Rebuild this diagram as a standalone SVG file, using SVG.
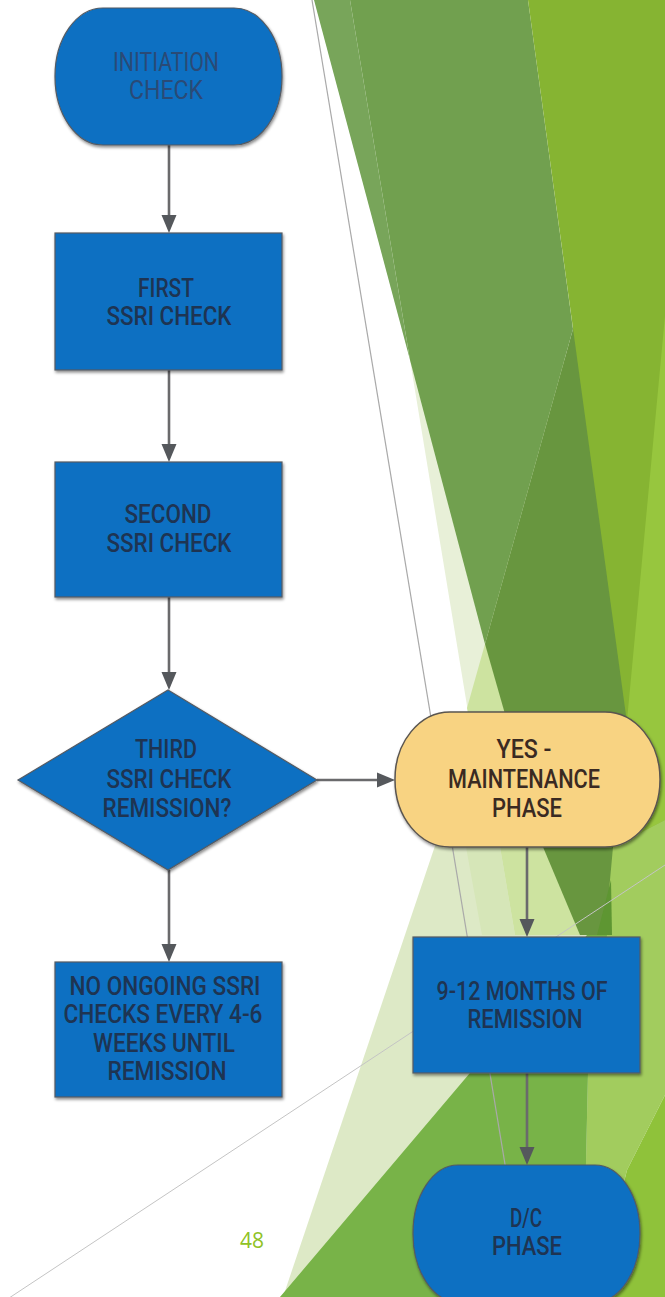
<svg xmlns="http://www.w3.org/2000/svg" width="665" height="1297" viewBox="0 0 665 1297">
<defs>
<style>
.t{font-family:Roboto,'Liberation Sans',Arial,sans-serif;font-weight:500;font-size:25px;fill:#1e3452;text-anchor:middle}
.ti{font-weight:400;fill:#2a4a76}
.ty{fill:#3a2a22}
.blue{fill:#0a6fc2;stroke:#555b63;stroke-width:1.2}
.yel{fill:#f8d382;stroke:#5a5550;stroke-width:1.5}
.con{stroke:#6a6a6c;stroke-width:2.6;fill:none}
.ah{fill:#55585c}
</style>
<filter id="sh" x="-10%" y="-10%" width="120%" height="125%">
<feDropShadow dx="1" dy="2" stdDeviation="1.6" flood-color="#000" flood-opacity="0.45"/>
</filter>
</defs>
<g id="background">
<rect x="0" y="0" width="665" height="1297" fill="#ffffff"/>
<polygon points="410,360 600,360 600,736 472,736" fill="#e8f0d8"/>
<polygon points="472,736 600,736 600,1297 283,1297" fill="#dde9c6"/>
<polygon points="485,644 467,708 468,713 500,847 515,935 620,935 620,644" fill="#cde3a0"/>
<polygon points="466,847 500,847 515,935 482,935" fill="#d6e6b8"/>
<polygon points="314,0 350,0 410,360" fill="#78a55a"/>
<polygon points="350,0 528,0 573,329 485,644 410,360" fill="#71a04f"/>
<polygon points="573,329 485,644 543,847 580,935 665,935 665,329" fill="#68963f"/>
<polygon points="528,0 665,0 665,1000" fill="#86b432"/>
<polygon points="665,316 628,710 613,847 665,820" fill="#97c63e"/>
<polygon points="613,847 665,820 665,1095 627,1170 595,1297 583,1297 588,1073 605,935" fill="#a2cc5e"/>
<polygon points="280,1297 587,935 607,935 588,1073 583,1297" fill="#78b348"/>
<polygon points="665,1095 665,1297 595,1297 627,1170" fill="#8fc23a"/>
<polygon points="597,935 611,880 612,935" fill="#5e9632"/>
<line x1="312" y1="0" x2="527" y2="1297" stroke="#a9a9a9" stroke-width="1.2"/>
<line x1="0" y1="1304" x2="665" y2="865" stroke="#c4c4c4" stroke-width="1"/>
<text x="240" y="1248" style="font-family:'Open Sans','Liberation Sans',sans-serif;font-size:21px;fill:#90c226">48</text>
</g>
<g id="connectors">
<line class="con" x1="169" y1="145" x2="169" y2="218"/>
<polygon class="ah" points="161.5,215 176.5,215 169,233"/>
<line class="con" x1="169" y1="370" x2="169" y2="447"/>
<polygon class="ah" points="161.5,444 176.5,444 169,462"/>
<line class="con" x1="169" y1="597" x2="169" y2="675"/>
<polygon class="ah" points="161.5,672 176.5,672 169,690"/>
<line class="con" x1="169" y1="870" x2="169" y2="947"/>
<polygon class="ah" points="161.5,944 176.5,944 169,962"/>
<line class="con" x1="317" y1="780" x2="380" y2="780"/>
<polygon class="ah" points="377,772.5 377,787.5 395,780"/>
<line class="con" x1="527" y1="847" x2="527" y2="922"/>
<polygon class="ah" points="519.5,919 534.5,919 527,937"/>
<line class="con" x1="527" y1="1073" x2="527" y2="1150"/>
<polygon class="ah" points="519.5,1147 534.5,1147 527,1165"/>
</g>
<g id="n-initiation">
<rect class="blue" filter="url(#sh)" x="55" y="8" width="227" height="137" rx="48" ry="68"/>
<text class="t ti" x="166" y="71" textLength="106" lengthAdjust="spacingAndGlyphs">INITIATION</text>
<text class="t ti" x="166" y="99" textLength="74" lengthAdjust="spacingAndGlyphs">CHECK</text>
</g>
<g id="n-first">
<rect class="blue" filter="url(#sh)" x="55" y="233" width="227" height="137"/>
<text class="t" x="166" y="297" textLength="56" lengthAdjust="spacingAndGlyphs">FIRST</text>
<text class="t" x="169" y="325" textLength="125" lengthAdjust="spacingAndGlyphs">SSRI CHECK</text>
</g>
<g id="n-second">
<rect class="blue" filter="url(#sh)" x="55" y="462" width="227" height="135"/>
<text class="t" x="168" y="523" textLength="87" lengthAdjust="spacingAndGlyphs">SECOND</text>
<text class="t" x="169" y="552" textLength="125" lengthAdjust="spacingAndGlyphs">SSRI CHECK</text>
</g>
<g id="n-third">
<polygon class="blue" filter="url(#sh)" points="168,690 317,780 168,870 18,780"/>
<text class="t" x="166" y="758" textLength="62" lengthAdjust="spacingAndGlyphs">THIRD</text>
<text class="t" x="169" y="788" textLength="125" lengthAdjust="spacingAndGlyphs">SSRI CHECK</text>
<text class="t" x="167" y="817" textLength="129" lengthAdjust="spacingAndGlyphs">REMISSION?</text>
</g>
<g id="n-noongoing">
<rect class="blue" filter="url(#sh)" x="55" y="962" width="227" height="135"/>
<text class="t" x="165" y="995" textLength="191" lengthAdjust="spacingAndGlyphs">NO ONGOING SSRI</text>
<text class="t" x="163" y="1023" textLength="199" lengthAdjust="spacingAndGlyphs">CHECKS EVERY 4-6</text>
<text class="t" x="164" y="1052" textLength="142" lengthAdjust="spacingAndGlyphs">WEEKS UNTIL</text>
<text class="t" x="167" y="1080" textLength="119" lengthAdjust="spacingAndGlyphs">REMISSION</text>
</g>
<g id="n-yes">
<rect class="yel" filter="url(#sh)" x="395" y="712" width="265" height="135" rx="55" ry="67"/>
<text class="t ty" x="524" y="758" textLength="55" lengthAdjust="spacingAndGlyphs">YES -</text>
<text class="t ty" x="524" y="788" textLength="152" lengthAdjust="spacingAndGlyphs">MAINTENANCE</text>
<text class="t ty" x="527" y="817" textLength="70" lengthAdjust="spacingAndGlyphs">PHASE</text>
</g>
<g id="n-months">
<rect class="blue" filter="url(#sh)" x="413" y="937" width="227" height="136"/>
<text class="t" x="522" y="1000" textLength="171" lengthAdjust="spacingAndGlyphs">9-12 MONTHS OF</text>
<text class="t" x="525" y="1028" textLength="115" lengthAdjust="spacingAndGlyphs">REMISSION</text>
</g>
<g id="n-dc">
<rect class="blue" filter="url(#sh)" x="413" y="1165" width="227" height="137" rx="45" ry="68"/>
<text class="t" x="526" y="1227" textLength="32" lengthAdjust="spacingAndGlyphs">D/C</text>
<text class="t" x="527" y="1255" textLength="70" lengthAdjust="spacingAndGlyphs">PHASE</text>
</g>
</svg>
